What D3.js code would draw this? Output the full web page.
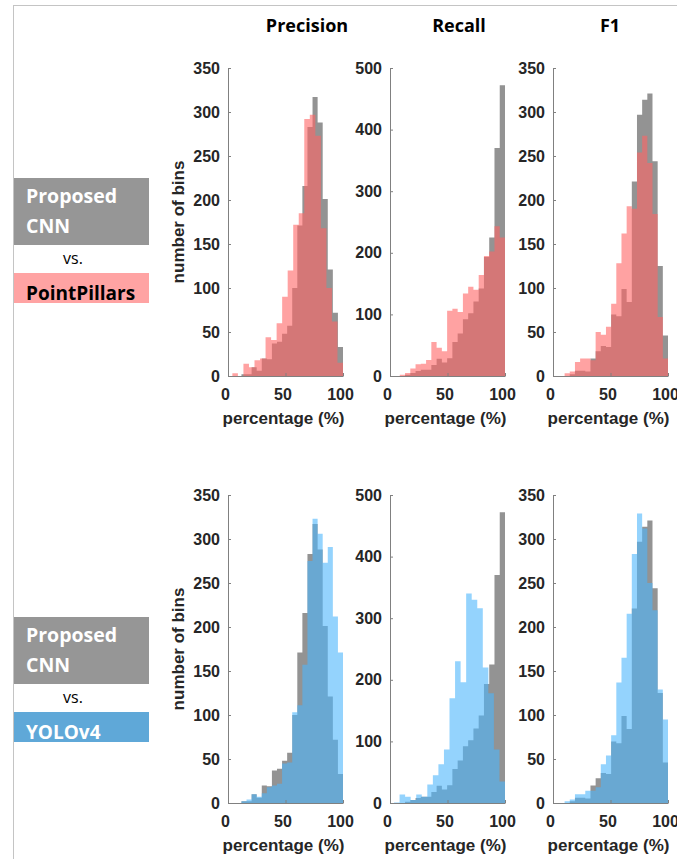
<!DOCTYPE html>
<html>
<head>
<meta charset="utf-8">
<script src="https://cdn.jsdelivr.net/npm/d3@7"></script>
<style>
  body { margin: 0; background: #fff; }
  svg { display: block; }
</style>
</head>
<body>
<script>
// column titles and axis ticks
var metrics = ["Precision", "Recall", "F1"];
var yMax = [350, 500, 350];
var yTickStep = [50, 100, 50];
var xTicks = [0, 50, 100];

// Proposed CNN (gray), bin counts, bins run from lo to 100
var cnnLo = [11.7, 8.5, 10.1];
var cnnPrecision = [2, 2, 10, 6, 20, 19, 37, 39, 48, 57, 100, 171, 216, 283, 317, 288, 201, 121, 72, 33];
var cnnRecall = [0, 2, 5, 8, 10, 10, 18, 28, 22, 29, 55, 69, 92, 102, 121, 142, 193, 225, 370, 472];
var cnnF1 = [0, 2, 6, 6, 5, 20, 28, 34, 33, 70, 68, 99, 84, 221, 297, 314, 321, 244, 125, 46];

// PointPillars (pink)
var ppLo = [3.8, 8.5, 10.1];
var ppPrecision = [3, 0, 14, 10, 18, 20, 44, 41, 60, 90, 120, 172, 185, 292, 297, 273, 168, 100, 62, 15];
var ppRecall = [2, 5, 12, 19, 20, 26, 55, 46, 40, 106, 109, 104, 134, 145, 140, 164, 195, 202, 243, 225];
var ppF1 = [3, 5, 16, 20, 20, 18, 50, 47, 56, 82, 128, 162, 193, 190, 254, 273, 242, 184, 67, 20];

// YOLOv4 (blue)
var yoloLo = [11.7, 3.5, 10.1];
var yoloPrecision = [2, 4, 10, 7, 11, 18, 20, 22, 45, 46, 103, 111, 157, 275, 323, 306, 273, 291, 212, 171];
var yoloRecall = [1, 14, 10, 5, 14, 10, 30, 45, 63, 87, 170, 230, 196, 340, 330, 316, 220, 178, 87, 35];
var yoloF1 = [2, 4, 10, 10, 14, 14, 18, 44, 54, 77, 137, 165, 215, 283, 329, 312, 250, 219, 129, 95];

var cnnData = [cnnPrecision, cnnRecall, cnnF1];

var rows = [
  { name: "PointPillars", data: [ppPrecision, ppRecall, ppF1], lo: ppLo,
    fill: "#ff6464", box: "#ffa3a3", text: "#000", top: 68, bottom: 376, boxTop: 178 },
  { name: "YOLOv4", data: [yoloPrecision, yoloRecall, yoloF1], lo: yoloLo,
    fill: "rgb(77,182,252)", box: "#5fa8d8", text: "#fff", top: 495, bottom: 803, boxTop: 617 }
];

var colX = [228, 390, 553];
var plotW = 115;
var axisFont = "'Liberation Sans', Arial, sans-serif";
var labelFont = "'Open Sans', sans-serif";

var svg = d3.select("body").append("svg")
    .attr("width", 677)
    .attr("height", 859);

svg.append("rect").attr("width", 677).attr("height", 859).attr("fill", "#fff");

// frame lines
svg.append("line").attr("x1", 13).attr("x2", 677).attr("y1", 5.5).attr("y2", 5.5)
    .attr("stroke", "#c4c4c4").attr("stroke-width", 1);
svg.append("line").attr("x1", 13.5).attr("x2", 13.5).attr("y1", 5).attr("y2", 859)
    .attr("stroke", "#c4c4c4").attr("stroke-width", 1);

// column titles
var titleX = [307, 459, 610];
metrics.forEach(function(m, i) {
    svg.append("text")
        .attr("x", titleX[i]).attr("y", 32)
        .attr("text-anchor", "middle")
        .style("font-family", labelFont).style("font-weight", 700).style("font-size", "18px")
        .attr("fill", "#000")
        .text(m);
});

function histArea(counts, lo, x, y) {
    var w = (100 - lo) / counts.length;
    var pts = counts.map(function(c, i) { return { x: lo + i * w, n: c }; });
    pts.push({ x: 100, n: counts[counts.length - 1] });
    return d3.area()
        .curve(d3.curveStepAfter)
        .x(function(d) { return x(d.x); })
        .y0(y(0))
        .y1(function(d) { return y(d.n); })(pts);
}

rows.forEach(function(row) {
    // left legend boxes
    var bt = row.boxTop;
    svg.append("rect").attr("x", 14).attr("y", bt).attr("width", 135).attr("height", 67).attr("fill", "#969696");
    svg.append("text").attr("x", 26).attr("y", bt + 24.5)
        .style("font-family", labelFont).style("font-weight", 700).style("font-size", "19.5px")
        .attr("fill", "#fff").text("Proposed");
    svg.append("text").attr("x", 26).attr("y", bt + 55)
        .style("font-family", labelFont).style("font-weight", 700).style("font-size", "19.5px")
        .attr("fill", "#fff").text("CNN");
    svg.append("text").attr("x", 73).attr("y", bt + 86).attr("text-anchor", "middle")
        .style("font-family", labelFont).style("font-size", "16px")
        .attr("fill", "#000").text("vs.");
    svg.append("rect").attr("x", 14).attr("y", bt + 95).attr("width", 135).attr("height", 30).attr("fill", row.box);
    svg.append("text").attr("x", 26).attr("y", bt + 121.5)
        .style("font-family", labelFont).style("font-weight", 700).style("font-size", "19px")
        .attr("fill", row.text).text(row.name);

    metrics.forEach(function(m, i) {
        var x = d3.scaleLinear().domain([0, 100]).range([colX[i], colX[i] + plotW]);
        var y = d3.scaleLinear().domain([0, yMax[i]]).range([row.bottom, row.top]);
        var g = svg.append("g");

        g.append("path")
            .attr("d", histArea(cnnData[i], cnnLo[i], x, y))
            .attr("fill", "#939393");
        g.append("path")
            .attr("d", histArea(row.data[i], row.lo[i], x, y))
            .attr("fill", row.fill)
            .attr("fill-opacity", 0.6);

        var yAxis = d3.axisLeft(y)
            .tickValues(d3.range(0, yMax[i] + 1, yTickStep[i]))
            .tickSizeInner(-3).tickSizeOuter(0).tickPadding(8);
        var xAxis = d3.axisBottom(x)
            .tickValues(xTicks)
            .tickSizeInner(-3).tickSizeOuter(0).tickPadding(13);

        var ya = g.append("g")
            .attr("transform", "translate(" + colX[i] + ",0)")
            .call(yAxis);
        var xa = g.append("g")
            .attr("transform", "translate(0," + row.bottom + ")")
            .call(xAxis);
        xa.selectAll("text").attr("dx", -3);

        [ya, xa].forEach(function(a) {
            a.selectAll("path, line").attr("stroke", "#808080");
            a.selectAll("text")
                .style("font-family", axisFont).style("font-weight", 700).style("font-size", "16px")
                .attr("fill", "#262626");
        });

        g.append("text")
            .attr("x", colX[i] + plotW / 2 - 2).attr("y", row.bottom + 48)
            .attr("text-anchor", "middle")
            .style("font-family", axisFont).style("font-weight", 700).style("font-size", "17px")
            .attr("fill", "#262626")
            .text("percentage (%)");

        if (i === 0) {
            g.append("text")
                .attr("transform", "translate(184," + (row.bottom + row.top) / 2 + ") rotate(-90)")
                .attr("text-anchor", "middle")
                .style("font-family", axisFont).style("font-weight", 700).style("font-size", "17px")
                .attr("fill", "#262626")
                .text("number of bins");
        }
    });
});
</script>
</body>
</html>
